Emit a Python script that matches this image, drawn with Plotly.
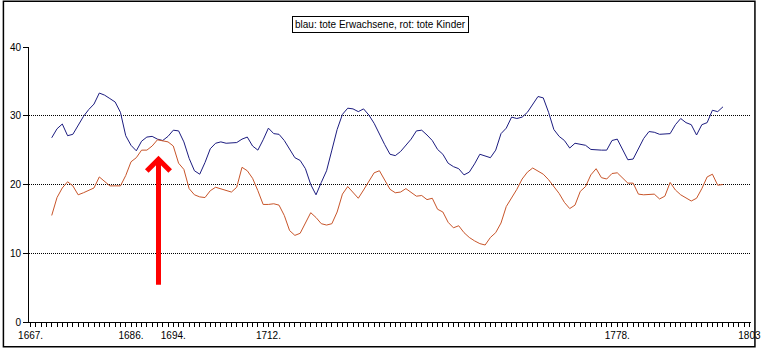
import plotly.graph_objects as go

years = list(range(1671, 1799))

erwachsene = [
    26.8, 28.1, 28.8, 27.1, 27.3, 28.7, 29.9, 30.9, 31.7, 33.3,
    33.0, 32.5, 32.0, 30.5, 27.1, 25.7, 24.9, 26.3, 26.9, 27.0,
    26.6, 26.4, 27.0, 27.9, 27.8, 26.2, 23.8, 22.0, 21.5, 23.2,
    25.2, 26.0, 26.2, 26.0, 26.0, 26.1, 26.6, 26.9, 25.6, 25.0,
    26.5, 28.2, 27.4, 27.3, 26.4,
    25.2, 23.9, 23.5, 22.3, 20.0, 18.5, 20.3, 22.0, 25.0, 28.0,
    30.2, 31.1, 31.0, 30.6, 31.0, 30.1, 28.9, 27.3, 25.8, 24.4,
    24.2, 24.8, 25.7, 26.6, 27.8, 27.9, 27.2, 26.4, 25.1, 24.4,
    23.1, 22.6, 22.3, 21.4, 21.8, 23.0, 24.4, 24.2, 23.9, 25.0,
    27.4, 28.2, 29.8, 29.6,
    29.8, 30.5, 31.7, 32.8, 32.6, 30.5, 28.0, 27.0, 26.4, 25.3,
    26.0, 25.9, 25.7, 25.1, 25.0, 25.0, 25.0, 26.4, 26.6, 25.2,
    23.6, 23.7, 25.3, 26.7, 27.7, 27.6, 27.3, 27.4, 27.4, 28.7,
    29.6, 29.0, 28.7, 27.2, 28.7, 29.0, 30.8, 30.6, 31.3,
]

kinder = [
    15.5, 18.1, 19.5, 20.4, 19.8, 18.5, 18.8, 19.1, 19.5, 21.1,
    20.4, 19.8, 19.8, 19.8, 21.3, 23.3, 23.9, 25.0, 25.0, 25.6,
    26.5, 26.3, 26.2, 25.6, 23.1, 22.2, 19.4, 18.5, 18.2, 18.1,
    19.1, 19.6, 19.4, 19.1, 18.9, 19.6, 22.5, 22.0, 20.9, 19.1,
    17.1, 17.1, 17.2, 17.0, 15.5,
    13.3, 12.6, 12.9, 14.4, 15.9, 15.2, 14.3, 14.1, 14.3, 16.0,
    18.6, 19.7, 18.8, 18.0, 19.2, 20.4, 21.7, 22.0, 20.7, 19.3,
    18.8, 18.9, 19.4, 18.9, 18.3, 18.4, 17.8, 18.0, 16.4, 16.0,
    14.5, 13.7, 14.0, 13.0, 12.3, 11.8, 11.4, 11.2, 12.3, 13.0,
    14.4, 16.8, 18.0, 19.3,
    20.8, 21.8, 22.4, 21.9, 21.5, 20.7, 19.7, 18.7, 17.4, 16.5,
    17.0, 19.0, 19.7, 21.4, 22.3, 21.0, 20.8, 21.6, 21.7, 21.0,
    20.2, 20.2, 18.6, 18.5, 18.6, 18.6, 17.9, 18.3, 20.3, 19.2,
    18.5, 18.1, 17.6, 18.0, 19.4, 21.1, 21.5, 19.9, 20.0,
]

tick_years = list(range(1667, 1804))
labeled_years = {1667: "1667.", 1686: "1686.", 1694: "1694.", 1712: "1712.",
                 1778: "1778.", 1803: "1803"}
tick_text = [labeled_years.get(y, "") for y in tick_years]
y_ticks = [0, 10, 20, 30, 40]

legend_text = "blau: tote Erwachsene, rot: tote Kinder"
arrow_year = 1691.2
arrow_tip = 24.2
arrow_tail = 5.2

FONT = "Liberation Sans"

fig = go.Figure()
fig.add_trace(go.Scatter(x=years, y=erwachsene, mode="lines",
                         line=dict(color="#1c1c80", width=1), showlegend=False))
fig.add_trace(go.Scatter(x=years, y=kinder, mode="lines",
                         line=dict(color="#c8552a", width=1), showlegend=False))

L, R, T, B = 27, 9.5, 47, 27
W, H = 770, 351
pw = W - L - R
ph = H - T - B


def px(p):
    return (p - L) / pw


def py(p):
    return (H - B - p) / ph


fig.update_layout(
    width=W, height=H,
    margin=dict(l=L, r=R, t=T, b=B, pad=0),
    paper_bgcolor="white", plot_bgcolor="white",
    font=dict(family=FONT, size=10, color="black"),
    xaxis=dict(range=[1666.7, 1803.3], tickmode="array", tickvals=tick_years,
               ticktext=tick_text, ticks="outside", ticklen=4, tickcolor="black",
               tickwidth=1, showgrid=False, zeroline=False, showline=True,
               linecolor="black", linewidth=1, tickangle=0,
               tickfont=dict(family=FONT, size=10)),
    yaxis=dict(range=[0, 40], tickvals=y_ticks, ticks="outside", ticklen=5,
               tickcolor="black", showgrid=True, gridcolor="black",
               griddash="1px,1px", gridwidth=1, zeroline=False, showline=True,
               linecolor="black", linewidth=1,
               tickfont=dict(family=FONT, size=10)),
    showlegend=False,
)

# outer frame
fig.add_shape(type="rect", xref="paper", yref="paper",
              x0=px(1), x1=px(764.5),
              y0=py(349), y1=py(1),
              line=dict(color="black", width=1.5), fillcolor="rgba(0,0,0,0)")

# legend box
fig.add_annotation(xref="paper", yref="paper",
                   x=px(384.5), y=py(24.5),
                   text=legend_text, showarrow=False,
                   font=dict(family=FONT, size=10, color="black"),
                   bordercolor="black", borderwidth=1, borderpad=2,
                   bgcolor="white", xanchor="center", yanchor="middle")

# red arrow
fig.add_annotation(x=arrow_year, y=arrow_tip, ax=arrow_year, ay=arrow_tail,
                   xref="x", yref="y", axref="x", ayref="y", text="",
                   showarrow=True, arrowhead=4, arrowsize=0.9, arrowwidth=5,
                   arrowcolor="#ff0000")

fig.write_html("out.html")
